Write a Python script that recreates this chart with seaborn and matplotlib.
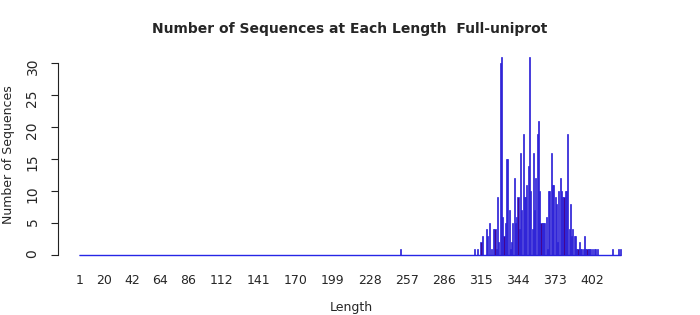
import numpy as np
import pandas as pd
import matplotlib
matplotlib.use("Agg")
import matplotlib.pyplot as plt
import seaborn as sns

# ---- data ----
max_length = 424
nonzero_lengths = [252, 310, 312, 315, 316, 319, 320, 322, 323, 325, 326, 327, 328, 329,
                   330, 331, 332, 333, 334, 335, 336, 337, 338, 339, 340, 341, 342, 343,
                   344, 345, 346, 347, 348, 349, 350, 351, 352, 353, 354, 355, 356, 357,
                   358, 359, 360, 361, 362, 363, 364, 365, 366, 367, 368, 369, 370, 371,
                   372, 373, 374, 375, 376, 377, 378, 379, 380, 381, 382, 383, 384, 385,
                   386, 387, 388, 389, 390, 391, 392, 393, 394, 395, 396, 397, 398, 399,
                   400, 401, 402, 404, 405, 406, 418, 423, 424]
nonzero_counts = [1, 1, 1, 2, 3, 4, 3, 5, 1, 4, 4, 1, 9, 2,
                  30, 31, 6, 3, 5, 15, 15, 7, 1, 2, 5, 12, 5, 6,
                  9, 4, 16, 7, 19, 9, 9, 11, 14, 31, 10, 4, 16, 7,
                  12, 19, 21, 10, 5, 5, 5, 5, 6, 1, 10, 10, 16, 11,
                  11, 9, 8, 2, 10, 12, 10, 9, 9, 10, 10, 19, 4, 8,
                  3, 4, 3, 3, 1, 1, 2, 1, 1, 1, 3, 1, 1, 1,
                  1, 1, 1, 1, 1, 1, 1, 1, 1]
tick_labels = [1, 20, 42, 64, 86, 112, 141, 170, 199, 228, 257, 286, 315, 344, 373, 402]
y_ticks = [0, 5, 10, 15, 20, 25, 30]

lengths = list(range(1, max_length + 1))
count_map = dict(zip(nonzero_lengths, nonzero_counts))
counts = [count_map.get(L, 0) for L in lengths]
df = pd.DataFrame({"Length": lengths, "Count": counts})

# ---- figure ----
W, H = 700, 315
sns.set_style("white")
plt.rcParams["font.family"] = ["DejaVu Sans"]
fig = plt.figure(figsize=(7, 3.15), dpi=100)

ax_left, ax_right = 70, 630
ax_top, ax_bottom = 50, 260
ax = fig.add_axes([ax_left / W, 1 - ax_bottom / H, (ax_right - ax_left) / W, (ax_bottom - ax_top) / H])

bar_edge = "#2626e6"
sns.barplot(data=df, x="Length", y="Count", order=lengths, color="#46078f",
            saturation=1, edgecolor=bar_edge, linewidth=0.5, width=0.85, ax=ax,
            errorbar=None)
# outline of the zero-height bars forms a continuous baseline
ax.hlines(0, -0.5, len(lengths) - 0.5, color=bar_edge, linewidth=1.0, zorder=0)

# pixel mapping: length 1 at x=80, 1.277 px per length
px_per = 1.277
ax.set_xlim(-(80 - ax_left) / px_per, (ax_right - 80) / px_per)
ypx = 6.39
ax.set_ylim(-(ax_bottom - 255) / ypx, (255 - ax_top) / ypx)

ax.set_xticks([L - 1 for L in tick_labels])
ax.set_xticklabels([str(t) for t in tick_labels], fontsize=9)
ax.tick_params(axis="x", bottom=False, length=0, pad=10)

ax.set_yticks(y_ticks)
ax.set_yticklabels([str(t) for t in y_ticks], fontsize=8.5)
ax.tick_params(axis="y", left=True, length=5, width=0.8, pad=8, color="#222222",
               labelrotation=90)
for lab in ax.get_yticklabels():
    lab.set_va("center")

for s in ["top", "right", "bottom"]:
    ax.spines[s].set_visible(False)
ax.spines["left"].set_position(("outward", 9))
ax.spines["left"].set_bounds(0, 30)
ax.spines["left"].set_linewidth(0.8)
ax.spines["left"].set_color("#222222")

ax.set_xlabel("")
ax.set_ylabel("")
fig.text(0.5, 1 - 29 / H, "Number of Sequences at Each Length  Full-uniprot",
         ha="center", va="center", fontsize=10, fontweight="bold")
fig.text(351 / W, 1 - 308 / H, "Length", ha="center", va="center", fontsize=9)
fig.text(9 / W, 1 - 155 / H, "Number of Sequences", ha="center", va="center",
         fontsize=9, rotation=90)

fig.savefig("out.png", dpi=100)
